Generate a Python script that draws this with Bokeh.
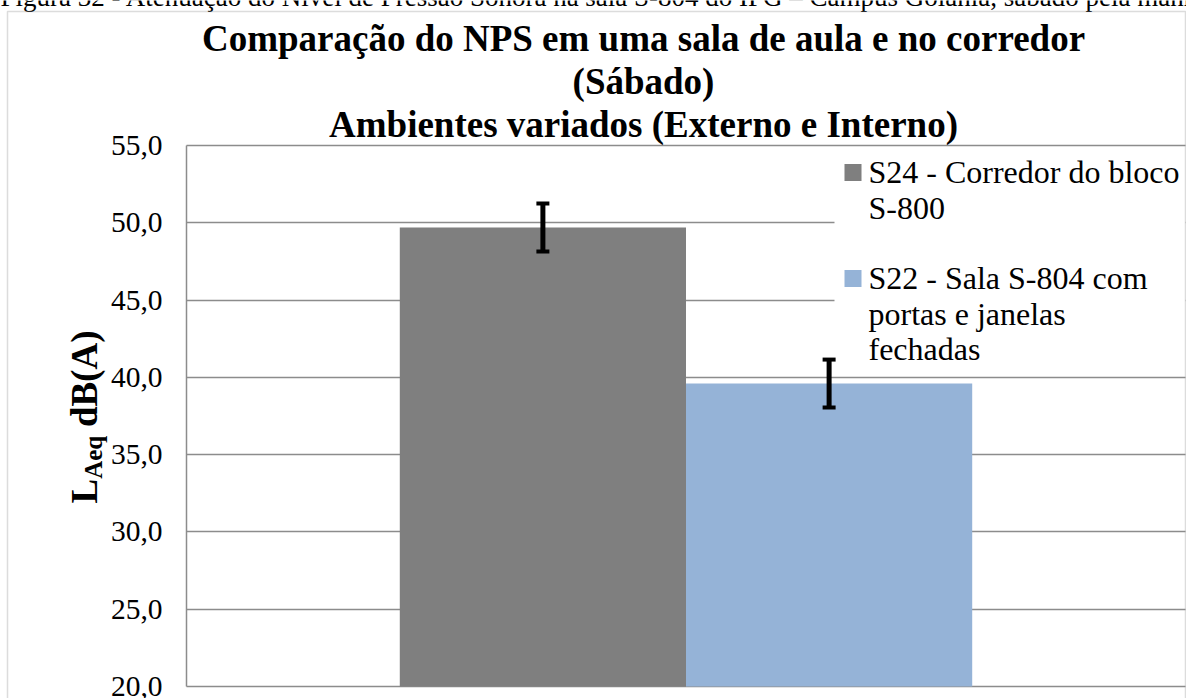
import math
from bokeh.plotting import figure
from bokeh.models import (Range1d, FixedTicker, ColumnDataSource, Whisker, TeeHead,
                          Label, BoxAnnotation, LinearAxis, Grid)
from bokeh.embed import file_html
from bokeh.resources import INLINE

# ---------------- data ----------------
caption = ("Figura 32 - Atenuação do Nível de Pressão Sonora na sala S-804 do IFG – "
           "Campus Goiânia, sábado pela manhã")
title_lines = [
    "Comparação do NPS em uma sala de aula e no corredor",
    "(Sábado)",
    "Ambientes variados (Externo e Interno)",
]
series_names = [
    "S24 - Corredor do bloco\nS-800",
    "S22 - Sala S-804 com\nportas e janelas\nfechadas",
]
series_values = [49.7, 39.6]
series_errors = [1.55, 1.55]
series_colors = ["#7F7F7F", "#95B3D7"]
y_ticks = [20, 25, 30, 35, 40, 45, 50, 55]
y_tick_labels = ["20,0", "25,0", "30,0", "35,0", "40,0", "45,0", "50,0", "55,0"]
y_label_main = "L"
y_label_sub = "Aeq"
y_label_unit = "dB(A)"

# ---------------- layout (canvas px) ----------------
W, H = 1186, 698
PL, PT, PR, PB = 186, 145, 1185, 686   # plot area edges
Y0, Y1 = 20, 55
X0, X1 = 0.0, 1.0
GRID = "#8C8C8C"
SERIF = "Liberation Serif"
BASE_FIX = 0.35   # Bokeh draws 'alphabetic' text this many em lower than asked


def dx(px):
    return X0 + (px - PL) / (PR - PL) * (X1 - X0)


def dy(py):
    return Y1 - (py - PT) / (PB - PT) * (Y1 - Y0)


# the frame covers the whole canvas so that titles and labels are never clipped
p = figure(width=W, height=H, output_backend="svg", toolbar_location=None,
           x_range=Range1d(dx(0), dx(W)), y_range=Range1d(dy(H), dy(0)),
           x_axis_location=None, y_axis_location=None,
           min_border_left=0, min_border_right=0, min_border_top=0, min_border_bottom=0)
p.background_fill_color = "white"
p.border_fill_color = "white"
p.outline_line_color = None
p.xgrid.visible = False
p.ygrid.visible = False

yaxis = LinearAxis(fixed_location=X0, bounds=(Y0, Y1), ticker=FixedTicker(ticks=y_ticks))
yaxis.major_label_overrides = {t: l for t, l in zip(y_ticks, y_tick_labels)}
yaxis.major_label_text_font = SERIF
yaxis.major_label_text_font_size = "29.5px"
yaxis.major_label_text_color = "black"
yaxis.major_tick_line_color = None
yaxis.minor_tick_line_color = None
yaxis.major_tick_out = 0
yaxis.major_tick_in = 0
yaxis.axis_line_color = GRID
yaxis.axis_line_width = 1.5
yaxis.major_label_standoff = 24
p.add_layout(yaxis, "left")

grid = Grid(dimension=1, ticker=FixedTicker(ticks=y_ticks),
            grid_line_color=GRID, grid_line_width=1.5)
if "cross_bounds" in Grid.properties():
    grid.cross_bounds = (X0, X1)
p.add_layout(grid)

# ---------------- bars ----------------
n = len(series_values)
bar_w = 0.2865
center = (X0 + X1) / 2
xs = [center + (i - (n - 1) / 2) * bar_w for i in range(n)]
for i in range(n):
    p.vbar(x=[xs[i]], top=[series_values[i]], bottom=Y0, width=bar_w,
           fill_color=series_colors[i], line_color=None)

err_src = ColumnDataSource(data=dict(
    x=xs,
    upper=[v + e for v, e in zip(series_values, series_errors)],
    lower=[v - e for v, e in zip(series_values, series_errors)],
))
p.add_layout(Whisker(source=err_src, base="x", upper="upper", lower="lower",
                     line_color="black", line_width=5, level="overlay",
                     upper_head=TeeHead(size=13, line_width=4, line_color="black"),
                     lower_head=TeeHead(size=13, line_width=4, line_color="black")))

# ---------------- legend (Excel-style, keys aligned with first text line) ----------------
p.quad(left=[dx(834)], right=[dx(PR)], top=[dy(147)], bottom=[dy(374)],
       fill_color="white", line_color=None)
LEG_SIZE = 32
key_centers = [172, 278]
first_baselines = [183, 289]
line_pitch = 35.5
for i, name in enumerate(series_names):
    p.scatter(x=[dx(852.5)], y=[dy(key_centers[i])], marker="square", size=17,
              fill_color=series_colors[i], line_color=None)
    for j, line in enumerate(name.split("\n")):
        b = first_baselines[i] + j * line_pitch - BASE_FIX * LEG_SIZE
        p.add_layout(Label(x=dx(868), y=dy(b), text=line,
                           text_align="left", text_baseline="alphabetic",
                           text_font=SERIF, text_font_size=f"{LEG_SIZE}px",
                           text_color="black"))

# ---------------- document caption (cut off at the top, as in the source page) ----------------
CAP_SIZE = 27
p.add_layout(Label(x=dx(0), y=dy(6 - BASE_FIX * CAP_SIZE), text=caption,
                   text_align="left", text_baseline="alphabetic", text_font=SERIF,
                   text_font_size=f"{CAP_SIZE}px", text_color="black"))

# ---------------- title ----------------
TITLE_SIZE = 37
title_baselines = [51, 94, 137]
for txt, b in zip(title_lines, title_baselines):
    p.add_layout(Label(x=dx(643), y=dy(b - BASE_FIX * TITLE_SIZE), text=txt,
                       text_align="center", text_baseline="alphabetic", text_font=SERIF,
                       text_font_style="bold", text_font_size=f"{TITLE_SIZE}px",
                       text_color="black"))

# ---------------- y axis label (with subscript) ----------------
YL, YS = 37, 25
ylab = dict(text_font=SERIF, text_font_style="bold", text_color="black",
            text_align="left", text_baseline="alphabetic", angle=math.pi / 2)
p.add_layout(Label(x=dx(97 - BASE_FIX * YL), y=dy(503), text=y_label_main,
                   text_font_size=f"{YL}px", **ylab))
p.add_layout(Label(x=dx(102 - BASE_FIX * YS), y=dy(478.3), text=y_label_sub,
                   text_font_size=f"{YS}px", **ylab))
p.add_layout(Label(x=dx(97 - BASE_FIX * YL), y=dy(426.5), text=y_label_unit,
                   text_font_size=f"{YL}px", **ylab))

# ---------------- outer chart border ----------------
p.add_layout(BoxAnnotation(left=dx(7), right=dx(PR), top=dy(11), bottom=dy(H + 30),
                           fill_color=None, line_color=GRID, line_width=1.5))

open("out.html", "w").write(file_html(p, INLINE))
